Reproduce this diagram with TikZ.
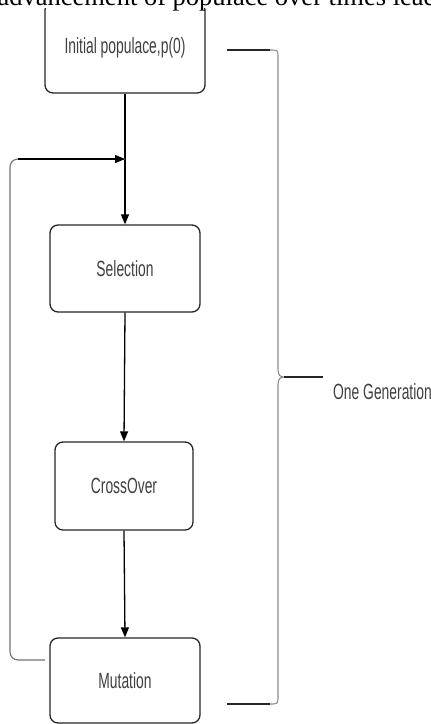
\documentclass[tikz,border=0pt]{standalone}
\usepackage{fontspec}
\setmainfont{Liberation Serif}
\newfontfamily\boxfont[FakeStretch=0.63]{Liberation Sans}
\usetikzlibrary{arrows.meta}

\tikzset{
    stage/.style={draw=black!85, line width=1.3pt, rounded corners=8pt, fill=white,
        font=\boxfont\fontsize{22}{24}\selectfont, text=black!75, inner sep=0pt},
    flow/.style={line width=1.3pt, -{Triangle[length=10pt,width=8pt]}},
    loopline/.style={draw=black!55, line width=1.1pt, rounded corners=8pt},
    braceline/.style={draw=black!45, line width=1.1pt}
}

\begin{document}
\begin{tikzpicture}[x=1pt, y=-1pt]
    \useasboundingbox (0,0) rectangle (431,724);
    \clip (0,0) rectangle (431,724);

    \node[stage, minimum width=160pt, minimum height=91pt] (init) at (125,47.5) {Initial populace,p(0)};
    \node[stage, minimum width=150pt, minimum height=87pt] (sel) at (125,268.5) {Selection};
    \node[stage, minimum width=138pt, minimum height=88pt] (cross) at (124,486) {CrossOver};
    \node[stage, minimum width=150pt, minimum height=85pt] (mut) at (125,680.5) {Mutation};

    \node[anchor=base west, font=\fontsize{26.5}{30}\selectfont, inner sep=0pt, fill=white,
        text depth=3pt, minimum width=440pt, align=left] (cap) at (-3,5) {advancement of populace over times lead};

    \draw[flow] (init.south) -- (sel.north);
    \draw[flow] (sel.south) -- (cross.north);
    \draw[flow] (cross.south) -- (mut.north);

    \coordinate (back) at (45,660);
    \coordinate (join) at (125,159);
    \draw[loopline] (back) -- (10,660) -- (10,159) -- (join);
    \draw[flow] (18,159) -- (join);

    \coordinate (gtop) at (227,50);
    \coordinate (gbot) at (227,704);
    \coordinate (gtip) at (284,377);
    \coordinate (gend) at (323,377);
    \draw[braceline, draw=black!85] (gtop) -- (270,50);
    \draw[braceline] (270,50) .. controls (278,50) .. (278,58) -- (278,369)
        .. controls (278,375) and (280,377) .. (gtip)
        .. controls (280,377) and (278,379) .. (278,385) -- (278,696)
        .. controls (278,704) .. (270,704);
    \draw[braceline, draw=black!85] (270,704) -- (gbot);
    \draw[line width=1.2pt, draw=black!85] (gtip) -- (gend);
    \node[anchor=west, font=\boxfont\fontsize{22}{24}\selectfont, text=black!75, inner sep=0pt] (gen) at (333,392) {One Generation};
\end{tikzpicture}
\end{document}
